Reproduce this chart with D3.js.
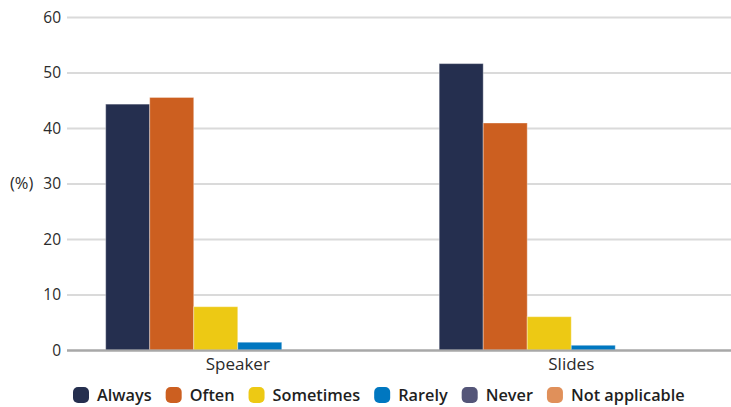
<!DOCTYPE html>
<html>
<head>
<meta charset="utf-8">
<script src="https://cdn.jsdelivr.net/npm/d3@7"></script>
<style>
  html, body { margin: 0; padding: 0; background: #fff; }
  svg { display: block; font-family: "Open Sans", "Noto Sans", sans-serif; }
</style>
</head>
<body>
<svg id="chart" width="731" height="407"></svg>
<script>
// Groups on the x axis and the answer options plotted inside each group
const categories = ["Speaker", "Slides"];
const seriesNames = ["Always", "Often", "Sometimes", "Rarely", "Never", "Not applicable"];
const seriesColors = ["#252f4f", "#cc5f20", "#edc914", "#0077c0", "#545578", "#e0905a"];

// Percentages per answer option, one entry per category
const always        = [44.3, 51.6];
const often         = [45.5, 40.9];
const sometimes     = [7.8, 6.0];
const rarely        = [1.4, 0.85];
const never         = [0, 0];
const notApplicable = [0, 0];

const yTicks = [0, 10, 20, 30, 40, 50, 60];

const seriesValues = [always, often, sometimes, rarely, never, notApplicable];

const svg = d3.select("#chart");

const plot = { left: 67, right: 731, top: 17, bottom: 350 };

const y = d3.scaleLinear().domain([0, 60]).range([plot.bottom, plot.top]);

const x0 = d3.scaleBand().domain(categories).range([71, 738]).padding(0);
const x1 = d3.scaleBand().domain(seriesNames).range([0, x0.bandwidth()])
  .paddingInner(0).paddingOuter(0.788);

const color = d3.scaleOrdinal().domain(seriesNames).range(seriesColors);

// Horizontal gridlines and value labels
const yAxis = d3.axisLeft(y).tickValues(yTicks).tickSize(0).tickPadding(0).tickFormat(d3.format("d"));
const yg = svg.append("g").attr("transform", `translate(${plot.left},0)`).call(yAxis);
yg.select(".domain").remove();
yg.selectAll(".tick line").remove();
yg.selectAll(".tick").each(function(d) {
  d3.select(this).append("line")
    .attr("x1", 0).attr("x2", plot.right - plot.left)
    .attr("y1", 0).attr("y2", 0)
    .attr("stroke", d === 0 ? "#a8a8a8" : "#dadada")
    .attr("stroke-width", 2);
});
yg.selectAll(".tick text")
  .attr("x", -6)
  .attr("dy", "0.35em")
  .attr("fill", "#2b2b2b")
  .style("font-size", "15.5px")
  .style("font-family", "\"Open Sans\", sans-serif");

// Unit label
svg.append("text")
  .attr("x", 10).attr("y", y(30))
  .attr("dy", "0.35em")
  .attr("fill", "#2b2b2b")
  .style("font-size", "16.5px")
  .text("(%)");

// Bars
const rows = [];
categories.forEach((c, ci) => {
  seriesNames.forEach((s, si) => {
    rows.push({ category: c, series: s, value: seriesValues[si][ci] });
  });
});

svg.append("g").selectAll("rect")
  .data(rows.filter(d => d.value > 0))
  .join("rect")
  .attr("x", d => x0(d.category) + x1(d.series))
  .attr("y", d => y(d.value))
  .attr("width", x1.bandwidth())
  .attr("height", d => y(0) - y(d.value))
  .attr("fill", d => color(d.series))
  .attr("stroke", "rgba(255,255,255,0.35)")
  .attr("stroke-width", 1);

// Baseline drawn over the bar bottoms
svg.append("line")
  .attr("x1", plot.left).attr("x2", plot.right)
  .attr("y1", y(0) + 0.5).attr("y2", y(0) + 0.5)
  .attr("stroke", "#a8a8a8").attr("stroke-width", 2);

// Category labels
const xAxis = d3.axisBottom(x0).tickSize(0).tickPadding(0);
const xg = svg.append("g").attr("transform", `translate(0,${plot.bottom})`).call(xAxis);
xg.select(".domain").remove();
xg.selectAll(".tick text")
  .attr("y", 20)
  .attr("dy", 0)
  .attr("fill", "#2b2b2b")
  .style("font-size", "17px")
  .style("font-family", "\"Open Sans\", sans-serif");

// Legend
const legend = svg.append("g").attr("transform", "translate(73,387)");
let lx = 0;
seriesNames.forEach((s, i) => {
  const item = legend.append("g").attr("transform", `translate(${lx},0)`);
  item.append("rect")
    .attr("width", 16).attr("height", 16).attr("rx", 5).attr("ry", 5)
    .attr("fill", seriesColors[i]);
  const t = item.append("text")
    .attr("x", 24).attr("y", 8).attr("dy", "0.36em")
    .attr("fill", "#1f1f1f")
    .style("font-size", "16.3px")
    .style("font-weight", 600)
    .text(s);
  lx += 24 + t.node().getComputedTextLength() + 14;
});
</script>
</body>
</html>
